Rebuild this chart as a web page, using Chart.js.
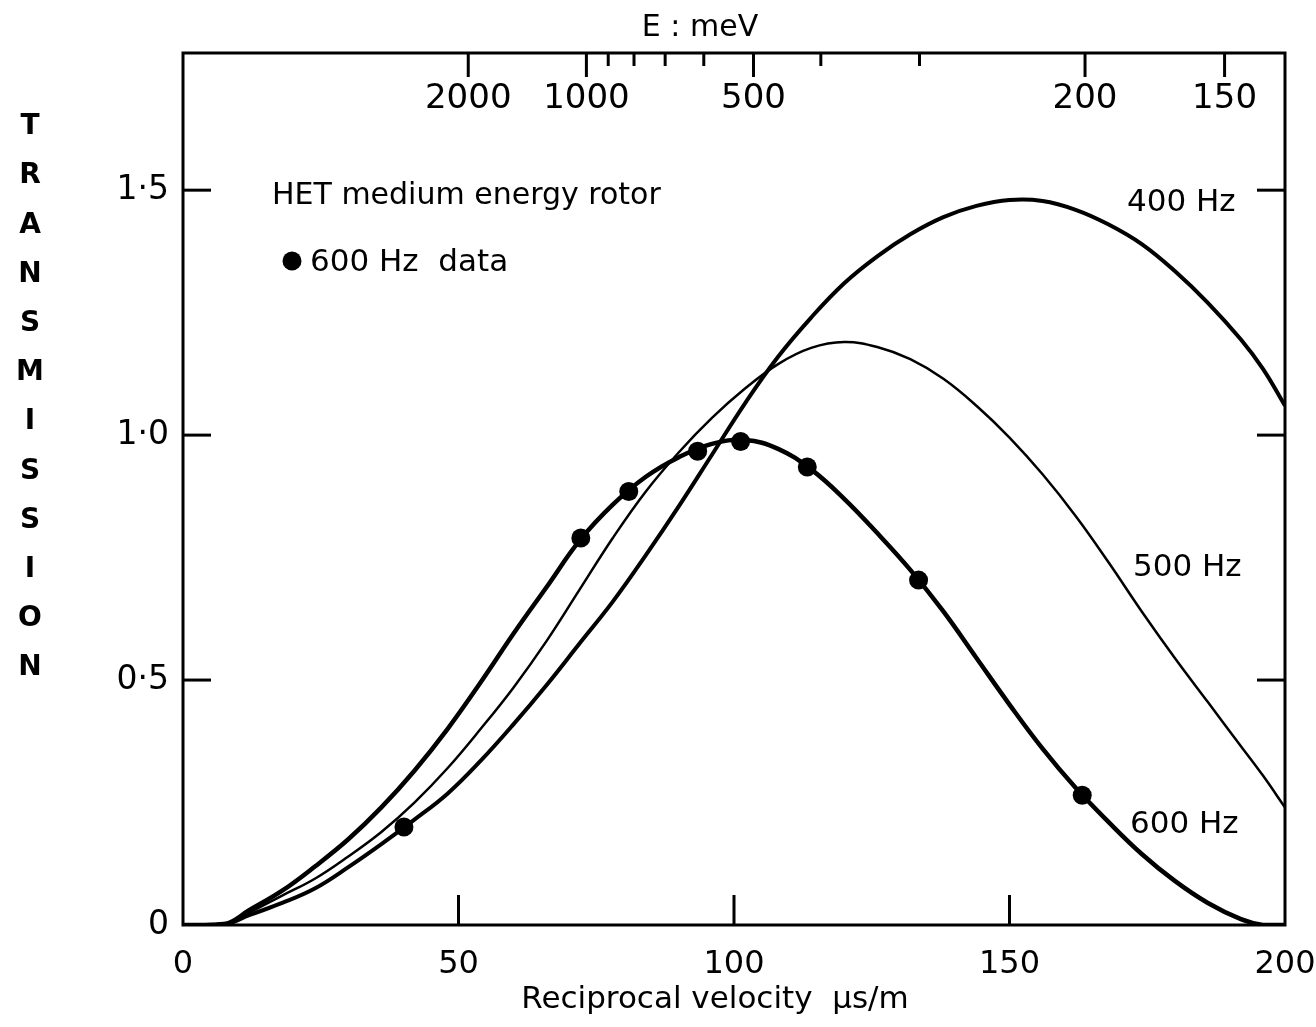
<!DOCTYPE html>
<html>
<head>
<meta charset="utf-8">
<script src="https://cdn.jsdelivr.net/npm/chart.js@4.4.1/dist/chart.umd.min.js"></script>
<style>
  html, body { margin: 0; background: #fff; }
</style>
</head>
<body>
<canvas id="chart" width="1316" height="1027"></canvas>
<script>
// reciprocal velocity grid (us/m) shared by the three calculated curves
const recipVel = [0, 4, 8, 12, 18, 24, 30, 36, 42, 48, 54, 60, 66, 72, 78, 84, 90, 96, 102, 108,
                  114, 120, 126, 132, 138, 144, 150, 156, 162, 168, 174, 180, 186, 192, 196, 200];

const trans400 = [0, 0, 0.002, 0.02, 0.045, 0.075, 0.118, 0.165, 0.215, 0.268, 0.335, 0.41,
                  0.49, 0.575, 0.66, 0.755, 0.855, 0.96, 1.065, 1.16, 1.24, 1.31, 1.365, 1.41,
                  1.445, 1.468, 1.48, 1.478, 1.46, 1.43, 1.39, 1.335, 1.27, 1.195, 1.135, 1.06];

const trans500 = [0, 0, 0.003, 0.025, 0.06, 0.095, 0.14, 0.19, 0.25, 0.32, 0.4, 0.485,
                  0.58, 0.685, 0.79, 0.885, 0.965, 1.035, 1.095, 1.145, 1.178, 1.19, 1.18, 1.155,
                  1.115, 1.06, 0.995, 0.92, 0.835, 0.74, 0.64, 0.545, 0.455, 0.365, 0.305, 0.24];

const trans600 = [0, 0, 0.003, 0.03, 0.07, 0.12, 0.175, 0.24, 0.315, 0.4, 0.495, 0.595,
                  0.69, 0.785, 0.858, 0.915, 0.955, 0.982, 0.99, 0.972, 0.93, 0.87, 0.8, 0.725,
                  0.64, 0.545, 0.45, 0.36, 0.28, 0.21, 0.145, 0.09, 0.045, 0.012, 0, 0];

// measured 600 Hz points
const dataVel   = [40.1, 72.2, 80.9, 93.4, 101.2, 113.3, 133.5, 163.2];
const dataTrans = [0.2, 0.79, 0.885, 0.967, 0.987, 0.935, 0.704, 0.265];

const xTicks = [0, 50, 100, 150, 200];
const yTicks = [0, 0.5, 1.0, 1.5];

// top axis: neutron energy in meV
const energyTicks  = [2000, 1000, 900, 800, 700, 600, 500, 400, 300, 200, 150];
const energyLabels = [2000, 1000, 500, 200, 150];
const E_CONST = 5.36e6; // E(meV) * t^2 (t in us/m), as the top scale is drawn

const FONT = "'DejaVu Sans', sans-serif";

function pts(ys) {
    return recipVel.map((x, i) => ({x: x, y: ys[i]}));
}

const extras = {
    id: 'extras',
    afterDraw(chart) {
        const ctx = chart.ctx;
        const xa = chart.scales.x, ya = chart.scales.y;
        const {left, right, top, bottom} = chart.chartArea;

        ctx.save();
        ctx.strokeStyle = '#000';
        ctx.fillStyle = '#000';
        ctx.lineWidth = 3;
        ctx.strokeRect(left, top, right - left, bottom - top);

        function line(x1, y1, x2, y2) {
            ctx.beginPath();
            ctx.moveTo(x1, y1);
            ctx.lineTo(x2, y2);
            ctx.stroke();
        }

        // inward ticks
        yTicks.filter(v => v > 0).forEach(v => {
            const py = ya.getPixelForValue(v);
            line(left, py, left + 28, py);
            line(right - 28, py, right, py);
        });
        xTicks.filter(v => v > 0 && v < 200).forEach(v => {
            const px = xa.getPixelForValue(v);
            line(px, bottom, px, bottom - 30);
        });

        // energy scale along the top
        ctx.font = '34px ' + FONT;
        ctx.textAlign = 'center';
        ctx.textBaseline = 'middle';
        energyTicks.forEach(e => {
            const px = xa.getPixelForValue(Math.sqrt(E_CONST / e));
            const lab = energyLabels.includes(e);
            line(px, top, px, top + (lab ? 24 : 13));
            if (lab) ctx.fillText(String(e), px, top + 46);
        });
        ctx.font = '30px ' + FONT;
        ctx.fillText('E : meV', 700, 28);

        // axis titles
        ctx.font = '31px ' + FONT;
        ctx.fillText('Reciprocal velocity  \u03bcs/m', 715, 1000);
        ctx.font = 'bold 28px ' + FONT;
        const word = 'TRANSMISSION';
        for (let i = 0; i < word.length; i++) {
            ctx.fillText(word[i], 30, 127 + i * 49.2);
        }

        // annotations
        ctx.font = '30px ' + FONT;
        ctx.textAlign = 'left';
        ctx.fillText('HET medium energy rotor', 272, 196);
        ctx.beginPath();
        ctx.arc(292, 261, 9.5, 0, Math.PI * 2);
        ctx.fill();
        ctx.font = '31px ' + FONT;
        ctx.fillText('600 Hz  data', 310, 263);
        ctx.fillText('400 Hz', 1127, 203);
        ctx.fillText('500 Hz', 1133, 568);
        ctx.fillText('600 Hz', 1130, 825);
        ctx.restore();
    }
};

const curve = (label, ys, w) => ({
    label: label,
    data: pts(ys),
    showLine: true,
    borderColor: '#000',
    borderWidth: w,
    pointRadius: 0,
    tension: 0.4,
    fill: false
});

new Chart(document.getElementById('chart'), {
    type: 'scatter',
    data: {
        datasets: [
            curve('400 Hz', trans400, 4),
            curve('500 Hz', trans500, 2.5),
            curve('600 Hz', trans600, 4.5),
            {
                label: '600 Hz data',
                data: dataVel.map((x, i) => ({x: x, y: dataTrans[i]})),
                showLine: false,
                pointRadius: 9.5,
                pointBackgroundColor: '#000',
                pointBorderWidth: 0
            }
        ]
    },
    options: {
        responsive: false,
        animation: false,
        devicePixelRatio: 1,
        layout: {padding: {top: 53, right: 31, left: 0, bottom: 0}},
        plugins: {legend: {display: false}, tooltip: {enabled: false}},
        scales: {
            x: {
                type: 'linear', min: 0, max: 200,
                afterFit: s => { s.height = 102; s.paddingLeft = 0; s.paddingRight = 0; },
                afterBuildTicks: s => { s.ticks = xTicks.map(v => ({value: v})); },
                grid: {display: false},
                border: {display: false},
                ticks: {color: '#000', font: {family: FONT, size: 32}, padding: 12, maxRotation: 0, autoSkip: false}
            },
            y: {
                min: 0, max: 1.78,
                afterFit: s => { s.width = 183; s.paddingTop = 0; s.paddingBottom = 0; },
                afterBuildTicks: s => { s.ticks = yTicks.map(v => ({value: v})); },
                grid: {display: false},
                border: {display: false},
                ticks: {
                    color: '#000', font: {family: FONT, size: 33}, padding: 6,
                    callback: v => v === 0 ? '0' : v.toFixed(1).replace('.', '\u00b7')
                }
            }
        }
    },
    plugins: [extras]
});
</script>
</body>
</html>
